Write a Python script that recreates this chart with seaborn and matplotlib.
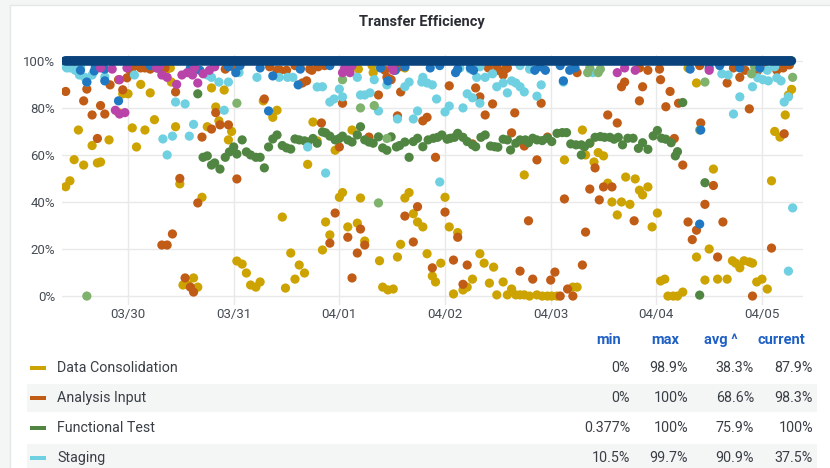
import numpy as np
import pandas as pd
import seaborn as sns
import matplotlib
matplotlib.use("Agg")
import matplotlib.pyplot as plt
import matplotlib.dates as mdates
from matplotlib.patches import Rectangle

# days since 03/29 00:00, value in %
dc_days = [0.41, 0.45, 0.49, 0.53, 0.58, 0.66, 0.71, 0.74, 0.82, 0.91, 0.95, 1.00, 1.04, 1.08, 1.12, 1.16,
           1.21, 1.25, 1.30, 1.37, 1.41, 1.45, 1.49, 1.52, 1.57, 1.62, 1.66, 1.70, 1.75, 1.79, 1.83, 1.86,
           1.91, 1.95, 1.98, 2.03, 2.08, 2.12, 2.16, 2.21, 2.25, 2.28, 2.37, 2.41, 2.46, 2.49, 2.54, 2.58,
           2.62, 2.67, 2.70, 2.75, 2.79, 2.84, 2.87, 2.91, 2.96, 3.00, 3.03, 3.08, 3.12, 3.17, 3.20, 3.24,
           3.32, 3.38, 3.41, 3.46, 3.51, 3.55, 3.58, 3.62, 3.66, 3.70, 3.74, 3.79, 3.83, 3.88, 3.91, 3.96,
           4.00, 4.04, 4.08, 4.12, 4.17, 4.21, 4.26, 4.33, 4.37, 4.42, 4.46, 4.49, 4.55, 4.59, 4.63, 4.67,
           4.71, 4.75, 4.75, 4.80, 4.87, 4.92, 4.97, 5.01, 5.06, 5.13, 5.21, 5.25, 5.30, 5.33, 5.37, 5.41,
           5.45, 5.50, 5.54, 5.58, 5.63, 5.67, 5.71, 5.75, 5.80, 5.84, 5.87, 5.92, 5.96, 6.01, 6.04, 6.08,
           6.11, 6.16, 6.20, 6.25, 6.30, 6.38, 6.38, 6.46, 6.50, 6.54, 6.58, 6.67, 6.72, 6.75, 6.79, 6.83,
           6.88, 6.91, 6.95, 7.00, 7.05, 7.09, 7.12, 7.17, 7.22, 7.25, 7.28,
           1.16, 1.35, 1.40, 3.18, 3.31, 3.62]
dc_vals = [46.5, 49, 58, 70.6, 55.7, 64, 56.6, 57, 66.4, 78, 86, 86, 71.5, 63.4, 90, 70.6,
           86.4, 75, 96.5, 96.5, 91, 72, 47.7, 4.7, 4.7, 7.7, 3.8, 42, 72, 88.5, 80.4, 74.5,
           87.6, 66.4, 70, 14.9, 13.6, 9.8, 4.7, 3.8, 6, 83, 76, 79, 33.6, 3.4, 18.3, 7.2,
           13.2, 9.8, 56, 74, 66, 19.6, 31.5, 26, 62, 42, 44, 29.4, 70.6, 31, 41.7, 23.4,
           95, 15, 3.8, 2.6, 3, 16.6, 22, 41.7, 44, 35, 31.5, 29.4, 18, 8.5, 6, 14,
           42, 29.4, 0.9, 27, 2.6, 3.8, 7.2, 18, 14, 5.5, 12.3, 0.5, 6, 0.5, 3, 0.5,
           0.5, 0.5, 51.5, 0, 0.5, 0, 0, 0, 0, 57.9, 3.8, 3.8, 70.6, 60, 65, 57,
           61, 59.6, 48, 40, 34.5, 40, 50.6, 39, 49.8, 45, 43, 46.4, 29.4, 35.3, 6.4, 7.2,
           0, 0, 0, 1.7, 97, 16.6, 90.6, 6.8, 20, 54, 7.2, 7.2, 15, 14, 12, 15,
           14.5, 14, 6, 7.2, 3, 49, 70, 67.6, 77, 85.5, 87.9,
           97.5, 98, 97, 96.5, 98, 97]

ai_days = [0.41, 0.46, 0.58, 0.61, 0.66, 0.71, 0.74, 0.78, 0.83, 0.91, 0.95, 0.99, 1.04, 1.12, 1.19, 1.32,
           1.37, 1.42, 1.45, 1.49, 1.54, 1.59, 1.62, 1.66, 1.70, 1.75, 1.79, 1.83, 1.87, 1.95, 2.03, 2.29,
           2.41, 2.50, 2.65, 2.69, 2.74, 2.83, 2.91, 2.96, 3.00, 3.03, 3.08, 3.12, 3.17, 3.20, 3.24, 3.28,
           3.37, 3.45, 3.49, 3.55, 3.58, 3.62, 3.70, 3.74, 3.79, 3.83, 3.88, 3.91, 4.00, 4.04, 4.08, 4.12,
           4.17, 4.21, 4.26, 4.29, 4.33, 4.38, 4.45, 4.50, 4.55, 4.59, 4.63, 4.66, 4.71, 4.75, 4.79, 4.83,
           4.87, 4.91, 4.97, 5.00, 5.04, 5.09, 5.13, 5.16, 5.21, 5.25, 5.30, 5.33, 5.37, 5.42, 5.46, 5.50,
           5.54, 5.58, 5.63, 5.67, 5.70, 5.79, 5.84, 5.87, 5.92, 6.04, 6.09, 6.13, 6.17, 6.21, 6.25, 6.30,
           6.34, 6.38, 6.42, 6.46, 6.54, 6.58, 6.63, 6.67, 6.79, 6.88, 6.91, 6.96, 7.09, 7.14, 7.21, 7.26,
           0.43, 1.02, 1.07, 1.16, 1.21, 1.30, 1.35, 1.59, 1.82, 1.92, 2.01, 2.34, 2.44, 2.58, 2.63, 2.72,
           2.80, 2.86, 3.43, 3.50, 3.57, 4.41, 4.49, 4.57, 5.84, 6.03, 6.41, 6.73, 6.84, 7.01, 7.20]
ai_vals = [87, 97.6, 83, 88, 77, 67, 81, 77.4, 89.8, 92, 87.7, 92.8, 97, 97, 97.5, 21.7,
           21.7, 26.4, 86.8, 50, 7.7, 3.8, 1.7, 39.6, 67.6, 94.5, 71, 78, 72.8, 72.8, 49.8, 83.8,
           96, 96, 90.6, 91.5, 96, 73.6, 22.5, 35.3, 63.4, 82, 25, 7.7, 18.3, 28.5, 21.7, 67.6,
           85.5, 93, 92, 76.6, 86.8, 34, 23, 38, 74.5, 76, 12, 59, 35.7, 89.4, 15.3, 25,
           5, 13.2, 64.7, 88.5, 84.7, 77, 81.7, 96, 94, 97, 69.4, 77.9, 10.6, 63.8, 32, 7.2,
           57.9, 82, 67.6, 6.8, 10.2, 0, 41.3, 3, 0, 95, 13.2, 27.2, 45.5, 54.5, 40.9, 46.4,
           77, 46.4, 73.6, 89, 91, 32, 83, 89, 96, 92, 80.5, 87, 67, 82, 55.7, 31.5,
           24, 28, 73.6, 39, 47, 16.6, 31.5, 90.6, 93, 79.6, 0, 96, 20.4, 96, 69, 98.3,
           97.5, 96, 98, 97, 96.5, 98, 97, 96, 98, 96.5, 97, 97.5, 96, 98, 97, 96.5,
           97.5, 98, 96, 97, 97.5, 97, 98, 96.5, 97, 96.5, 98, 97, 96, 97.5, 97]

ft_days = [1.66, 1.71, 1.75, 1.79, 1.82, 1.87, 1.92, 1.96, 2.00, 2.03, 2.08, 2.12, 2.16, 2.21, 2.25, 2.29,
           2.33, 2.37, 2.41, 2.46, 2.50, 2.54, 2.58, 2.62, 2.67, 2.70, 2.75, 2.79, 2.84, 2.87, 2.91, 2.96,
           3.00, 3.03, 3.08, 3.12, 3.17, 3.20, 3.24, 3.28, 3.32, 3.37, 3.41, 3.45, 3.49, 3.54, 3.57, 3.62,
           3.66, 3.70, 3.74, 3.79, 3.84, 3.89, 3.93, 3.97, 4.02, 4.05, 4.09, 4.12, 4.17, 4.21, 4.26, 4.29,
           4.34, 4.38, 4.43, 4.47, 4.50, 4.55, 4.59, 4.62, 4.67, 4.71, 4.76, 4.79, 4.83, 4.87, 4.92, 4.97,
           5.01, 5.06, 5.11, 5.15, 5.19, 5.24, 5.29, 5.29, 5.32, 5.37, 5.42, 5.47, 5.51, 5.56, 5.60, 5.64,
           5.68, 5.73, 5.78, 5.83, 5.87, 5.92, 5.97, 6.01, 6.05, 6.09, 6.14, 6.18, 6.20, 6.25, 6.41, 6.46,
           7.28]
ft_vals = [86, 59, 59.6, 55.7, 56.6, 54, 59, 61.3, 63.4, 60.4, 66.4, 61.3, 60, 59, 59, 54.5,
           63.4, 66.8, 68.5, 64, 63, 62.5, 66.8, 66.4, 66, 65.5, 67, 65, 69.8, 69.4, 68, 66.4,
           67, 68, 66.4, 65.5, 68.5, 72, 66.4, 65.5, 65, 67.7, 63, 62, 67.7, 63.4, 64, 65.5,
           59, 65.7, 67.1, 63.5, 66.4, 67.1, 67.5, 68.5, 66.7, 67.1, 67.5, 69.2, 67.5, 65.7, 64.3, 63.5,
           67.5, 68.5, 63.8, 63.5, 63.3, 66.7, 66.4, 62.1, 65, 66.4, 66.4, 65.2, 67.1, 66.4, 66.1, 67.1,
           65.7, 69.2, 69.5, 69.5, 64.7, 64.3, 64.3, 60, 63.5, 65, 67.5, 67.8, 67.5, 67.5, 66.7, 67.5,
           64.3, 67.1, 67.1, 62.8, 65.2, 62.4, 68.1, 70.4, 67.1, 66.7, 65.2, 59.6, 61.4, 82.3, 0.4, 48.2,
           100]

stg_days = [0.42, 0.50, 0.54, 0.59, 0.61, 0.66, 0.78, 1.06, 1.33, 1.37, 1.42, 1.45, 1.54, 1.58, 1.62, 1.75,
            1.79, 1.86, 1.91, 1.95, 2.05, 2.22, 2.43, 2.51, 2.56, 2.70, 2.79, 2.84, 2.87, 2.91, 2.95, 3.00,
            3.03, 3.17, 3.20, 3.24, 3.29, 3.33, 3.37, 3.45, 3.55, 3.62, 3.66, 3.70, 3.74, 3.78, 3.79, 3.83,
            3.88, 3.92, 3.95, 4.00, 4.04, 4.17, 4.21, 4.26, 4.30, 4.33, 4.38, 4.45, 4.49, 4.55, 4.59, 4.63,
            4.67, 4.71, 4.75, 4.87, 4.91, 5.12, 5.40, 6.62, 6.68, 6.73, 6.79, 6.91, 6.96, 7.01, 7.06, 7.14,
            7.18, 7.21, 7.25, 7.25, 7.29,
            0.40, 0.45, 0.55, 4.14, 4.24, 4.33, 4.71, 4.80, 6.98, 7.05, 7.12]
stg_vals = [97, 96, 94, 93, 91, 94, 93.2, 94, 66.8, 60, 68, 82.5, 81.7, 68, 73, 94,
            93, 91, 79, 91, 95, 93, 93, 93, 93, 63.4, 88.9, 89, 52.3, 82.5, 83.8, 88,
            84.7, 93, 85.5, 85.5, 86.4, 92, 78.7, 89.8, 75.3, 89, 91, 75.3, 78.7, 91, 93, 90.6,
            89.8, 83.8, 48.5, 78.3, 80.8, 80, 86, 84.3, 93, 82, 93, 94.5, 89, 90.6, 86.4, 91.5,
            90.6, 89, 86.8, 85, 89.8, 91, 95, 94.5, 94, 77.4, 84.7, 89, 92.8, 92, 91.5, 92.8,
            91.5, 82.5, 84.7, 10.6, 37.5,
            98, 97, 97.5, 97, 96.5, 97.5, 98, 96.5, 97, 96, 97.5]

lg_days = [0.61, 2.03, 3.03, 3.20, 3.33, 3.37, 3.45, 5.35, 5.45, 6.41, 6.46, 6.90, 7.29, 5.37, 5.47, 6.93]
lg_vals = [0, 82, 92, 80, 81, 39.6, 67, 95, 95, 70.6, 91, 94.5, 93, 97, 96.5, 97.5]

bl_days = [0.55, 0.61, 0.68, 0.78, 0.91, 1.28, 2.02, 2.33, 2.37, 2.61, 3.10, 3.46, 4.10, 4.27, 4.95, 5.12,
           5.18, 6.41, 6.42, 6.50, 6.98,
           0.69, 0.78, 1.21, 1.59, 1.68, 1.95, 2.06, 2.25, 2.63, 2.91, 3.39, 3.53, 3.62, 3.86, 3.95, 4.12,
           4.24, 4.85, 4.90, 5.09, 5.23, 6.32, 6.60, 6.79]
bl_vals = [96, 91, 95.7, 91.5, 83, 97, 95, 78.7, 93.6, 89.8, 97, 91.5, 95, 96, 96, 91.5,
           96, 30.6, 70.6, 97, 97,
           97.5, 96.5, 98, 97, 96, 97.5, 98, 97, 96.5, 98, 97, 96, 97.5, 97, 98, 96.5,
           97, 96, 97.5, 98, 97, 96.5, 98, 97]

mg_days = [0.88, 0.92, 0.97, 0.92, 0.99, 1.27, 1.32, 1.37, 1.46, 1.51, 1.56, 1.61, 1.66, 1.71, 1.77, 3.03,
           3.10, 3.51, 5.63, 5.70, 5.80, 6.50, 0.74, 0.85, 1.30, 1.63, 1.82, 3.05, 3.12, 3.50]
mg_vals = [79, 77.4, 78, 92, 97, 97, 94, 93, 90, 94, 95, 94, 90.6, 94.5, 96, 95,
           95, 96, 95, 97, 96, 96, 97, 96.5, 98, 97, 97.5, 97, 98, 97.5]

# top series sits at 100% for the whole range
nv_times = pd.date_range("2023-03-29 09:40", "2023-04-05 06:40", freq="15min")
nv_vals = [100.0] * len(nv_times)

legend_names = ["Data Consolidation", "Analysis Input", "Functional Test", "Staging"]
legend_min = ["0%", "0%", "0.377%", "10.5%"]
legend_max = ["98.9%", "100%", "100%", "99.7%"]
legend_avg = ["38.3%", "68.6%", "75.9%", "90.9%"]
legend_cur = ["87.9%", "98.3%", "100%", "37.5%"]

colors = {"Data Consolidation": "#CCA300", "Analysis Input": "#C15C17", "Functional Test": "#508642",
          "Staging": "#6ED0E0", "s5": "#7EB26D", "s6": "#1F78C1", "s7": "#BA43A9", "s8": "#0A437C"}

base = pd.Timestamp("2023-03-29")


def frame(name, days, vals):
    return pd.DataFrame({"time": base + pd.to_timedelta(days, unit="D"), "value": vals, "series": name})


df = pd.concat([
    frame("Data Consolidation", dc_days, dc_vals),
    frame("Analysis Input", ai_days, ai_vals),
    frame("Functional Test", ft_days, ft_vals),
    frame("Staging", stg_days, stg_vals),
    frame("s5", lg_days, lg_vals),
    frame("s6", bl_days, bl_vals),
    frame("s7", mg_days, mg_vals),
    pd.DataFrame({"time": nv_times, "value": nv_vals, "series": "s8"}),
], ignore_index=True)

sns.set_theme(style="white")
plt.rcParams["font.family"] = ["Roboto", "DejaVu Sans"]

W, H = 830, 468
fig = plt.figure(figsize=(W / 100, H / 100), dpi=100)
fig.patch.set_facecolor("#F4F5F5")
fig.patches.append(Rectangle((10 / W, -0.1), 1.0, 1 - 5 / H + 0.1, transform=fig.transFigure,
                             facecolor="white", edgecolor="#E4E7E7", linewidth=1, zorder=-5))

fig.text(422 / W, 1 - 22 / H, "Transfer Efficiency", ha="center", va="center",
         fontsize=10.5, fontweight="bold", color="#2A2D33")

ax = fig.add_axes([62 / W, 1 - 305 / H, (803 - 62) / W, 250 / H])
ax.set_facecolor("none")
sns.scatterplot(data=df, x="time", y="value", hue="series", palette=colors, s=44,
                linewidth=0, legend=False, ax=ax, zorder=3)

ax.set_xlim(base + pd.Timedelta(days=0.375), base + pd.Timedelta(days=7.388))
ax.set_ylim(-3.8, 102.5)
ax.set_yticks([0, 20, 40, 60, 80, 100])
ax.yaxis.set_major_formatter(matplotlib.ticker.FuncFormatter(lambda v, p: f"{v:.0f}%"))
ax.xaxis.set_major_locator(mdates.DayLocator())
ax.xaxis.set_major_formatter(mdates.DateFormatter("%m/%d"))
ax.grid(True, color="#E9E9E9", linewidth=1)
ax.set_axisbelow(True)
for sp in ax.spines.values():
    sp.set_visible(False)
ax.tick_params(length=0, labelsize=9.5, colors="#464C54")
ax.tick_params(axis="x", pad=2)
ax.tick_params(axis="y", pad=5)
ax.set_xlabel("")
ax.set_ylabel("")

# legend table
hdr_color = "#1F60C4"
for label, x in [("min", 609), ("max", 665), ("avg ^", 721), ("current", 781)]:
    fig.text(x / W, 1 - 340 / H, label, ha="center", va="center", fontsize=10.5,
             fontweight="bold", color=hdr_color)

for i, name in enumerate(legend_names):
    y = 368 + 30 * i
    if i % 2 == 1:
        fig.patches.append(Rectangle((27 / W, 1 - (y + 14) / H), (817 - 27) / W, 28 / H,
                                     transform=fig.transFigure, facecolor="#F4F5F5",
                                     edgecolor="none", zorder=-4))
    fig.patches.append(Rectangle((30 / W, 1 - (y + 2) / H), 16 / W, 4 / H, transform=fig.transFigure,
                                 facecolor=colors[name], edgecolor="none", zorder=2))
    fig.text(57 / W, 1 - y / H, name, ha="left", va="center", fontsize=10.3, color="#3A3F46")
    for val, x in [(legend_min[i], 630), (legend_max[i], 688), (legend_avg[i], 754), (legend_cur[i], 813)]:
        fig.text(x / W, 1 - y / H, val, ha="right", va="center", fontsize=10.3, color="#3A3F46")

fig.savefig("out.png", dpi=100, facecolor=fig.get_facecolor())
